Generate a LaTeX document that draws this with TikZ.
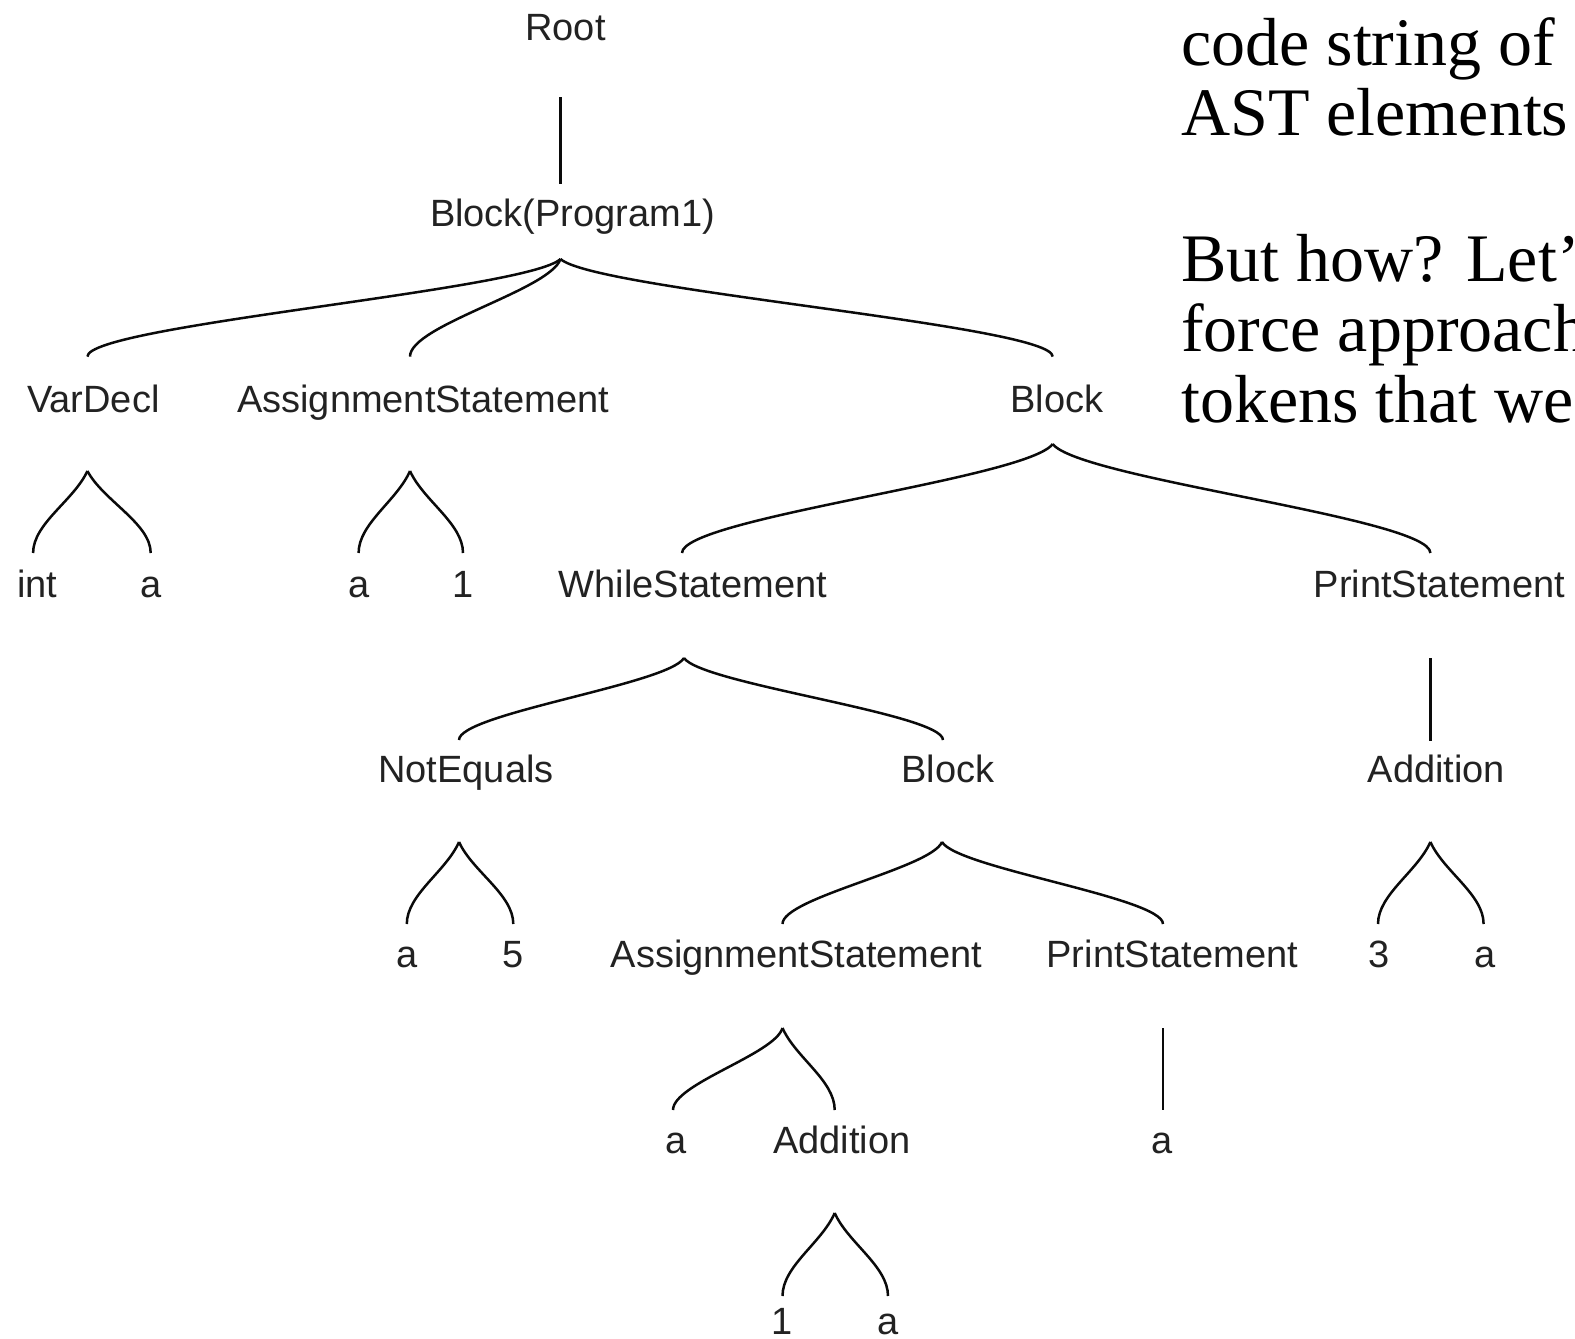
\documentclass[tikz,border=0pt]{standalone}
\usepackage{fontspec}
\newfontfamily\lblfont{Liberation Sans}
\newfontfamily\bodyfont{Liberation Serif}
\usetikzlibrary{calc}
\definecolor{lblcol}{HTML}{222222}
\definecolor{edgecol}{HTML}{0A0A0A}
\def\bra{0.06}
\def\brb{0.3}
\begin{document}
\begin{tikzpicture}[x=1pt,y=-1pt,
  lbl/.style={font=\lblfont\fontsize{38}{44}\selectfont, text=lblcol, inner sep=0pt, anchor=base},
  bodyt/.style={font=\bodyfont\fontsize{68}{80}\selectfont, text=black, inner sep=0pt, anchor=base west},
  conn/.style={draw=edgecol, line width=2.5pt},
  bwide/.code={\def\bra{0.07}\def\brb{0.32}},
  bnarrow/.code={\def\bra{0.25}\def\brb{0.36}},
  brace/.style={to path={let \p1=(\tikztostart), \p2=(\tikztotarget) in
     .. controls ($(\p1)+({\bra*(\x2-\x1)},{\brb*(\y2-\y1)})$)
        and ($(\p2)+(0,{\brb*(\y1-\y2)})$) .. (\p2)}}
]
\useasboundingbox (0,0) rectangle (1575,1339);

% ---- side text (clipped at the right edge, as in the reference) ----
\begin{scope}
\clip (0,0) rectangle (1575,1339);
\node[bodyt] (t1) at (1181,65) {code string of};
\node[bodyt] (t2) at (1181,135.5) {AST elements};
\node[bodyt] (t3) at (1181,281) {But how? Let’s};
\node[bodyt] (t4) at (1181,351.5) {force approach};
\node[bodyt] (t5) at (1181,422) {tokens that we};
\end{scope}

% ---- tree labels ----
\node[lbl] (root) at (565.5,40) {Root};
\node[lbl] (bp) at (572.6,226) {Block(Program1)};
\node[lbl] (vd) at (93.4,412) {VarDecl};
\node[lbl] (as1) at (423,412) {AssignmentStatement};
\node[lbl] (blk1) at (1056.7,412) {Block};
\node[lbl] (int) at (37.2,597) {int};
\node[lbl] (a1) at (150.7,597) {a};
\node[lbl] (a2) at (358.6,597) {a};
\node[lbl] (one1) at (463,597) {1};
\node[lbl] (ws) at (693,597) {WhileStatement};
\node[lbl] (ps1) at (1439.5,597) {PrintStatement};
\node[lbl] (ne) at (466,782) {NotEquals};
\node[lbl] (blk2) at (948,782) {Block};
\node[lbl] (add1) at (1436.4,782) {Addition};
\node[lbl] (a3) at (406.8,967) {a};
\node[lbl] (five) at (513.3,967) {5};
\node[lbl] (as2) at (796.6,967) {AssignmentStatement};
\node[lbl] (ps2) at (1172.3,967) {PrintStatement};
\node[lbl] (three) at (1379,967) {3};
\node[lbl] (a4) at (1484.7,967) {a};
\node[lbl] (a5) at (676,1153) {a};
\node[lbl] (add2) at (841.8,1153) {Addition};
\node[lbl] (a6) at (1162,1153) {a};
\node[lbl] (one2) at (782.5,1334.5) {1};
\node[lbl] (a7) at (888,1334.5) {a};

% ---- connector ports ----
\coordinate (root-b) at ([xshift=-5pt,yshift=-57.4pt]root.base);
\coordinate (bp-t) at ([xshift=-12.1pt,yshift=42.2pt]bp.base);
\coordinate (bp-b) at ([xshift=-12.1pt,yshift=-33pt]bp.base);
\coordinate (vd-t) at ([xshift=-6pt,yshift=55.4pt]vd.base);
\coordinate (as1-t) at ([xshift=-13pt,yshift=55.4pt]as1.base);
\coordinate (blk1-t) at ([xshift=-4pt,yshift=55.4pt]blk1.base);
\coordinate (vd-b) at ([xshift=-6pt,yshift=-59pt]vd.base);
\coordinate (int-t) at ([xshift=-4.1pt,yshift=44pt]int.base);
\coordinate (a1-t) at ([yshift=44pt]a1.base);
\coordinate (as1-b) at ([xshift=-13pt,yshift=-59pt]as1.base);
\coordinate (a2-t) at ([yshift=44pt]a2.base);
\coordinate (one1-t) at ([yshift=44pt]one1.base);
\coordinate (blk1-b) at ([xshift=-4pt,yshift=-32pt]blk1.base);
\coordinate (ws-t) at ([xshift=-11pt,yshift=44pt]ws.base);
\coordinate (ps1-t) at ([xshift=-9.1pt,yshift=44pt]ps1.base);
\coordinate (ws-b) at ([xshift=-9pt,yshift=-61pt]ws.base);
\coordinate (ps1-b) at ([xshift=-9.1pt,yshift=-61pt]ps1.base);
\coordinate (ne-t) at ([xshift=-7pt,yshift=42pt]ne.base);
\coordinate (blk2-t) at ([xshift=-5pt,yshift=42pt]blk2.base);
\coordinate (add1-t) at ([xshift=-6pt,yshift=41pt]add1.base);
\coordinate (ne-b) at ([xshift=-7pt,yshift=-60pt]ne.base);
\coordinate (a3-t) at ([yshift=43pt]a3.base);
\coordinate (five-t) at ([yshift=43pt]five.base);
\coordinate (blk2-b) at ([xshift=-6pt,yshift=-60pt]blk2.base);
\coordinate (as2-t) at ([xshift=-14.1pt,yshift=43pt]as2.base);
\coordinate (ps2-t) at ([xshift=-9.3pt,yshift=43pt]ps2.base);
\coordinate (add1-b) at ([xshift=-6pt,yshift=-60pt]add1.base);
\coordinate (three-t) at ([xshift=-1pt,yshift=43pt]three.base);
\coordinate (a4-t) at ([xshift=-1.1pt,yshift=43pt]a4.base);
\coordinate (as2-b) at ([xshift=-14.1pt,yshift=-61pt]as2.base);
\coordinate (a5-t) at ([xshift=-3pt,yshift=43pt]a5.base);
\coordinate (add2-t) at ([xshift=-7.1pt,yshift=43pt]add2.base);
\coordinate (ps2-b) at ([xshift=-9.3pt,yshift=-61pt]ps2.base);
\coordinate (a6-t) at ([xshift=1pt,yshift=43pt]a6.base);
\coordinate (add2-b) at ([xshift=-7.1pt,yshift=-60pt]add2.base);
\coordinate (one2-t) at ([yshift=38.5pt]one2.base);
\coordinate (a7-t) at ([yshift=38.5pt]a7.base);

% ---- straight connectors ----
\draw[conn] (root-b) -- (bp-t);
\draw[conn] (ps1-b) -- (add1-t);
\draw[conn] (ps2-b) -- (a6-t);

% ---- brace connectors ----
\draw[conn,bwide] (bp-b) to[brace] (vd-t);
\draw[conn,bwide] (bp-b) to[brace] (as1-t);
\draw[conn,bwide] (bp-b) to[brace] (blk1-t);
\draw[conn,bnarrow] (vd-b) to[brace] (int-t);
\draw[conn,bnarrow] (vd-b) to[brace] (a1-t);
\draw[conn,bnarrow] (as1-b) to[brace] (a2-t);
\draw[conn,bnarrow] (as1-b) to[brace] (one1-t);
\draw[conn,bwide] (blk1-b) to[brace] (ws-t);
\draw[conn,bwide] (blk1-b) to[brace] (ps1-t);
\draw[conn,bwide] (ws-b) to[brace] (ne-t);
\draw[conn,bwide] (ws-b) to[brace] (blk2-t);
\draw[conn,bnarrow] (ne-b) to[brace] (a3-t);
\draw[conn,bnarrow] (ne-b) to[brace] (five-t);
\draw[conn,bwide] (blk2-b) to[brace] (as2-t);
\draw[conn,bwide] (blk2-b) to[brace] (ps2-t);
\draw[conn,bnarrow] (add1-b) to[brace] (three-t);
\draw[conn,bnarrow] (add1-b) to[brace] (a4-t);
\draw[conn,bwide] (as2-b) to[brace] (a5-t);
\draw[conn,bnarrow] (as2-b) to[brace] (add2-t);
\draw[conn,bnarrow] (add2-b) to[brace] (one2-t);
\draw[conn,bnarrow] (add2-b) to[brace] (a7-t);
\end{tikzpicture}
\end{document}
